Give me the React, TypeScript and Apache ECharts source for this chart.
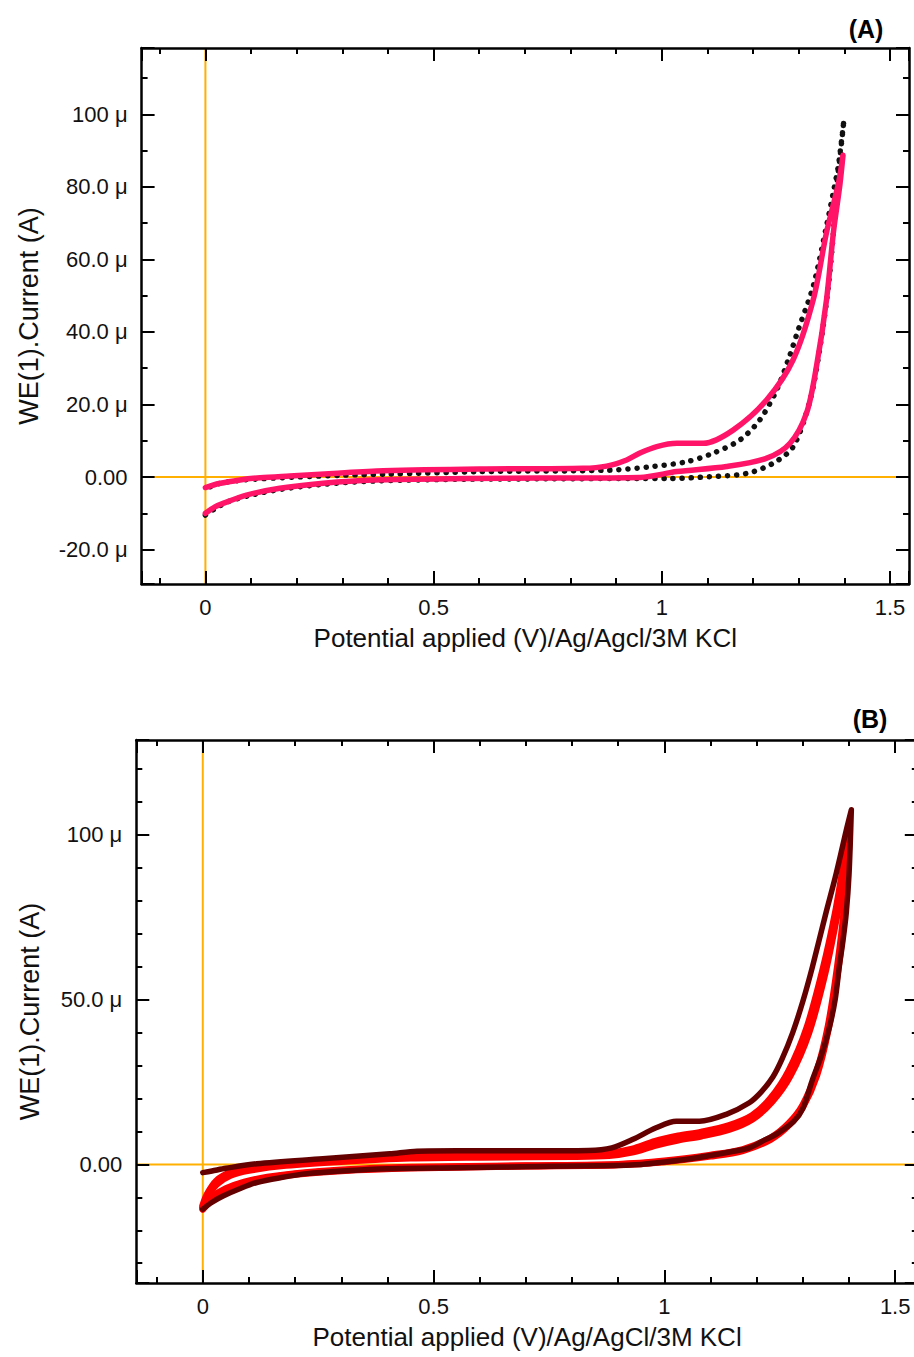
import React, { useEffect, useRef } from "react";
import * as echarts from "echarts";

// ---------- Chart (A) data : potential (V) vs current (µA) ----------
const A_blackV = [0, 0.02, 0.05, 0.1, 0.17, 0.26, 0.37, 0.57, 0.75, 0.95, 1.011, 1.106, 1.186, 1.244, 1.288, 1.325, 1.347, 1.365, 1.376, 1.383, 1.39, 1.399, 1.387, 1.376, 1.361, 1.332, 1.3, 1.279, 1.252, 1.215, 1.171, 1.113, 1.054, 0.981, 0.886, 0.6, 0.4, 0.3, 0.2, 0.12, 0.07, 0.03, 0];
const A_blackI = [-10.5, -8.8, -6.8, -5.0, -3.3, -2.0, -1.1, -0.6, -0.5, -0.4, -0.4, 0.1, 1.0, 3.8, 8.4, 21.3, 36.1, 52.7, 67.5, 80.4, 87.8, 98.4, 86, 78.6, 69.3, 52.7, 41, 33, 24.1, 15.8, 10.2, 6.6, 4.2, 2.9, 1.9, 1.5, 0.8, 0.5, 0, -0.5, -1.0, -1.8, -3.2];

const A_pinkV = [0, 0.02, 0.04, 0.09, 0.163, 0.258, 0.368, 0.573, 0.733, 0.952, 1.033, 1.142, 1.23, 1.281, 1.317, 1.339, 1.361, 1.376, 1.39, 1.397, 1.387, 1.361, 1.332, 1.288, 1.23, 1.157, 1.091, 1.033, 0.989, 0.952, 0.923, 0.879, 0.828, 0.6, 0.39, 0.28, 0.185, 0.12, 0.076, 0.03, 0];
const A_pinkI = [-10, -8.3, -7.2, -5.0, -3.1, -1.7, -0.8, -0.4, -0.3, -0.1, 1.5, 2.9, 5.2, 9.3, 17.6, 30.6, 49, 67.5, 80.4, 88.7, 81, 67.5, 49, 32.4, 21.3, 13, 9.3, 9.3, 8.4, 6.6, 4.7, 3.0, 2.4, 2.2, 1.7, 1.0, 0.3, -0.2, -0.8, -1.8, -2.9];

// ---------- Chart (B) data ----------
const B_maroonV = [0, 0.02, 0.044, 0.08, 0.117, 0.17, 0.225, 0.3, 0.4, 0.55, 0.75, 0.86, 0.95, 1.004, 1.06, 1.112, 1.15, 1.184, 1.22, 1.242, 1.28, 1.3, 1.321, 1.34, 1.358, 1.37, 1.379, 1.387, 1.394, 1.4, 1.405,
  1.395, 1.386, 1.37, 1.35, 1.321, 1.3, 1.278, 1.255, 1.235, 1.21, 1.184, 1.134, 1.076, 1.026, 0.982, 0.932, 0.886, 0.836, 0.7, 0.55, 0.464, 0.405, 0.26, 0.117, 0.05, 0.02, 0];
const B_maroonI = [-13.6, -11.5, -9.6, -7.4, -5.5, -4.0, -2.8, -2.0, -1.3, -1.0, -0.6, -0.4, 0, 0.8, 1.8, 3, 4, 5, 7.6, 9.1, 13, 17, 25.8, 33, 41.9, 50, 60.1, 68, 76.3, 88, 107.6,
  102, 96.5, 87, 76.3, 60.1, 49.5, 40, 32, 26.5, 22, 18.7, 15.2, 13.1, 13.1, 11.1, 7.6, 5.0, 4.2, 4.1, 4.1, 4.0, 3.2, 1.7, 0.2, -1.2, -2.0, -2.5];

const B_red1V = [0, 0.02, 0.05, 0.09, 0.14, 0.2, 0.3, 0.45, 0.7, 0.9, 1.0, 1.1, 1.17, 1.23, 1.27, 1.3, 1.33, 1.355, 1.375, 1.39, 1.4,
  1.395, 1.385, 1.37, 1.345, 1.31, 1.27, 1.23, 1.19, 1.14, 1.08, 1.03, 0.98, 0.93, 0.88, 0.8, 0.6, 0.45, 0.3, 0.18, 0.1, 0.06, 0.03, 0.01, 0];
const B_red1I = [-13.0, -10.0, -7.4, -5.4, -3.9, -2.8, -1.7, -0.9, -0.4, 0, 1.0, 2.8, 4.5, 8, 12.5, 18, 28, 42, 60, 78, 100,
  96, 88, 76, 60, 42, 28.5, 20, 14.8, 11.8, 9.8, 8.6, 7.0, 4.6, 3.4, 3.0, 2.8, 2.5, 1.4, 0.2, -1.2, -2.5, -5, -9, -12.5];

const B_red2V = [0, 0.02, 0.05, 0.09, 0.14, 0.2, 0.3, 0.45, 0.7, 0.9, 1.0, 1.1, 1.17, 1.23, 1.27, 1.3, 1.33, 1.355, 1.375, 1.39, 1.4,
  1.397, 1.388, 1.373, 1.348, 1.313, 1.273, 1.233, 1.19, 1.14, 1.08, 1.03, 0.98, 0.93, 0.88, 0.8, 0.6, 0.45, 0.3, 0.18, 0.1, 0.06, 0.03, 0.01, 0];
const B_red2I = [-13.6, -10.6, -7.9, -5.8, -4.2, -3.0, -1.9, -1.1, -0.5, -0.1, 0.8, 2.5, 4.2, 7.6, 12, 17.5, 27, 41, 58, 76, 98,
  94, 87, 75, 58, 40, 27, 19, 13.7, 10.6, 8.6, 7.4, 5.8, 3.7, 2.7, 2.4, 2.2, 1.9, 0.9, -0.3, -1.8, -3.3, -6, -9.8, -13.2];

// ---------- axis ranges / tick steps ----------
const A_xRange = [-0.1398, 1.5416];
const A_yRange = [-29.5, 118.3];
const B_xRange = [-0.144, 1.549];
const B_yRange = [-36.0, 128.8];
const X_STEP = 0.5;
const A_Y_STEP = 20;
const B_Y_STEP = 50;

const X_NAME = "Potential applied (V)/Ag/Agcl/3M KCl";
const X_NAME_B = "Potential applied (V)/Ag/AgCl/3M KCl";
const Y_NAME = "WE(1).Current (A)";
const PANEL_LABELS = ["(A)", "(B)"];

const FONT = "'Liberation Sans', Arial, Helvetica, sans-serif";
const ORANGE = "#ffb000";

const pairs = (vs: number[], is: number[]) => vs.map((v, i) => [v, is[i]]);

const isMultiple = (v: number, step: number) => Math.abs(v / step - Math.round(v / step)) < 1e-6;

const fmtX = (v: number) => (isMultiple(v, X_STEP) ? String(Math.round(v * 10) / 10) : "");
const fmtY = (step: number) => (v: number) => {
  if (!isMultiple(v, step)) return "";
  const r = Math.round(v);
  if (r === 0) return "0.00";
  if (Math.abs(r) >= 100) return `${r} \u03bc`;
  return `${r.toFixed(1)} \u03bc`;
};

const tickStyle = { color: "#000", width: 2 };
const lineStyleAxis = { color: "#000", width: 2.5 };

function xAxes(grid: number, range: number[], name: string) {
  const common = {
    type: "value",
    gridIndex: grid,
    min: range[0],
    max: range[1],
    minInterval: X_STEP,
    maxInterval: X_STEP,
    splitNumber: 3,
    z: 5,
    splitLine: { show: false },
    axisLine: { show: true, onZero: false, lineStyle: lineStyleAxis },
    axisTick: { show: true, inside: true, length: 13, lineStyle: tickStyle },
    minorTick: { show: true, splitNumber: 5, length: 6, lineStyle: tickStyle },
  };
  return [
    {
      ...common,
      position: "bottom",
      axisLabel: { show: true, margin: 12, fontSize: 22, color: "#111", fontFamily: FONT, formatter: fmtX, showMinLabel: false },
      name,
      nameLocation: "middle",
      nameGap: 41,
      nameTextStyle: { fontSize: 26, color: "#111", fontFamily: FONT },
    },
    { ...common, position: "top", axisLabel: { show: false } },
  ];
}

function yAxes(grid: number, range: number[], step: number, minorSplit: number, nameGap: number) {
  const common = {
    type: "value",
    gridIndex: grid,
    min: range[0],
    max: range[1],
    minInterval: step,
    maxInterval: step,
    splitNumber: 6,
    z: 5,
    splitLine: { show: false },
    axisLine: { show: true, onZero: false, lineStyle: lineStyleAxis },
    axisTick: { show: true, inside: true, length: 13, lineStyle: tickStyle },
    minorTick: { show: true, splitNumber: minorSplit, length: 6, lineStyle: tickStyle },
  };
  return [
    {
      ...common,
      position: "left",
      axisLabel: { show: true, margin: 14, fontSize: 22, color: "#111", fontFamily: FONT, formatter: fmtY(step), showMinLabel: false, showMaxLabel: false },
      name: Y_NAME,
      nameLocation: "middle",
      nameGap,
      nameTextStyle: { fontSize: 27, color: "#111", fontFamily: FONT },
    },
    { ...common, position: "right", axisLabel: { show: false } },
  ];
}

function refLines(xi: number, yi: number, xr: number[], yr: number[]) {
  const base = {
    type: "line",
    xAxisIndex: xi,
    yAxisIndex: yi,
    showSymbol: false,
    symbol: "none",
    silent: true,
    z: 1,
    lineStyle: { color: ORANGE, width: 2 },
  };
  return [
    { ...base, data: [[0, yr[0]], [0, yr[1]]] },
    { ...base, data: [[xr[0], 0], [xr[1], 0]] },
  ];
}

function curve(xi: number, yi: number, data: number[][], lineStyle: any, z: number) {
  return {
    type: "line",
    xAxisIndex: xi,
    yAxisIndex: yi,
    data,
    showSymbol: false,
    symbol: "none",
    smooth: 0.3,
    silent: true,
    z,
    lineStyle: { cap: "round", join: "round", ...lineStyle },
  };
}

export default function App() {
  const ref = useRef<HTMLDivElement>(null);

  useEffect(() => {
    if (!ref.current) return;
    const chart = echarts.init(ref.current, undefined, { renderer: "svg" });
    const option: any = {
      animation: false,
      backgroundColor: "#fff",
      grid: [
        { left: 141.6, top: 48, width: 767.4, height: 536, containLabel: false, outerBoundsMode: "none" },
        { left: 136.3, top: 740, width: 781.5, height: 543, containLabel: false, outerBoundsMode: "none" },
      ],
      xAxis: [...xAxes(0, A_xRange, X_NAME), ...xAxes(1, B_xRange, X_NAME_B)],
      yAxis: [...yAxes(0, A_yRange, A_Y_STEP, 2, 99), ...yAxes(1, B_yRange, B_Y_STEP, 5, 93)],
      series: [
        ...refLines(0, 0, A_xRange, A_yRange),
        curve(0, 0, pairs(A_blackV, A_blackI), { color: "#111", width: 5.5, type: [0.1, 9] }, 2),
        curve(0, 0, pairs(A_pinkV, A_pinkI), { color: "#ff1468", width: 5.5 }, 3),
        ...refLines(2, 2, B_xRange, B_yRange),
        curve(2, 2, pairs(B_red2V, B_red2I), { color: "#ff0000", width: 7 }, 2),
        curve(2, 2, pairs(B_red1V, B_red1I), { color: "#ff0000", width: 7 }, 2),
        curve(2, 2, pairs(B_maroonV, B_maroonI), { color: "#640000", width: 5.5 }, 3),
      ],
      graphic: [
        {
          type: "text",
          x: 866,
          y: 29,
          style: { text: PANEL_LABELS[0], font: `bold 25px ${FONT}`, fill: "#000", align: "center", verticalAlign: "middle", textAlign: "center", textVerticalAlign: "middle" },
        },
        {
          type: "text",
          x: 870,
          y: 719,
          style: { text: PANEL_LABELS[1], font: `bold 25px ${FONT}`, fill: "#000", align: "center", verticalAlign: "middle", textAlign: "center", textVerticalAlign: "middle" },
        },
      ],
    };
    chart.setOption(option);
    return () => chart.dispose();
  }, []);

  return <div ref={ref} style={{ position: "absolute", left: 0, top: 0, width: 914, height: 1357, background: "#fff" }} />;
}
